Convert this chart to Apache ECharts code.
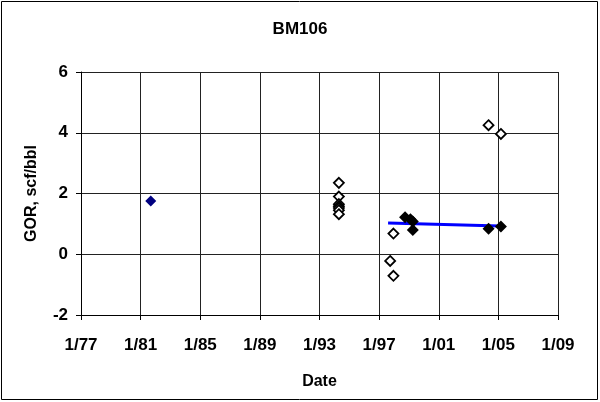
<!DOCTYPE html>
<html><head><meta charset="utf-8">
<script src="https://cdn.jsdelivr.net/npm/echarts@6/dist/echarts.min.js"></script>
<style>html,body{margin:0;padding:0;background:#fff}#c{width:600px;height:402px}</style>
</head><body><div id="c"></div>
<script>
// x values are decimal years
const title = 'BM106';
const xTickYears = [1977, 1981, 1985, 1989, 1993, 1997, 2001, 2005, 2009];
const yTicks = [-2, 0, 2, 4, 6];
const navyX = [1981.68];
const navyY = [1.75];
const openX = [1994.3, 1994.3, 1994.3, 1994.3, 1994.3, 1994.3, 1994.3, 1997.96, 1997.74, 1997.96, 2004.34, 2005.17];
const openY = [2.35, 1.9, 1.65, 1.58, 1.52, 1.45, 1.32, 0.68, -0.22, -0.71, 4.25, 3.96];
const filledX = [1998.74, 1999.1, 1999.26, 1999.26, 2004.34, 2005.17];
const filledY = [1.22, 1.15, 1.08, 0.8, 0.84, 0.91];
const trendX = [1997.6, 2005.1];
const trendY = [1.03, 0.93];

const zip = (a, b) => a.map((v, i) => [v, b[i]]);
const font = 'Liberation Sans, Arial, sans-serif';
const chart = echarts.init(document.getElementById('c'));
chart.setOption({
  animation: false,
  backgroundColor: '#fff',
  title: { text: title, left: 'center', top: 16,
    textStyle: { fontFamily: font, fontSize: 17, fontWeight: 'bold', color: '#000' } },
  grid: { left: 81, right: 42, top: 72, bottom: 87, containLabel: false },
  xAxis: {
    type: 'value', min: xTickYears[0], max: xTickYears[xTickYears.length - 1], interval: 4,
    name: 'Date', nameLocation: 'middle', nameGap: 59,
    nameTextStyle: { fontFamily: font, fontSize: 16, fontWeight: 'bold', color: '#000' },
    axisLine: { show: true, onZero: false, lineStyle: { color: '#000', width: 1 } },
    axisTick: { show: true, length: 5, lineStyle: { color: '#000' } },
    splitLine: { show: true, lineStyle: { color: '#222', width: 1 } },
    axisLabel: { margin: 22, fontFamily: font, fontSize: 17, fontWeight: 'bold', color: '#000',
      formatter: v => '1/' + String(v).slice(2) }
  },
  yAxis: {
    type: 'value', min: yTicks[0], max: yTicks[yTicks.length - 1], interval: 2,
    name: 'GOR, scf/bbl', nameLocation: 'middle', nameGap: 41, nameRotate: 90,
    nameTextStyle: { fontFamily: font, fontSize: 16, fontWeight: 'bold', color: '#000' },
    axisLine: { show: true, onZero: false, lineStyle: { color: '#000', width: 1 } },
    axisTick: { show: true, length: 5, lineStyle: { color: '#000' } },
    splitLine: { show: true, lineStyle: { color: '#222', width: 1 } },
    axisLabel: { margin: 13, fontFamily: font, fontSize: 17, fontWeight: 'bold', color: '#000' }
  },
  graphic: [{ type: 'rect', shape: { x: 1.5, y: 1.5, width: 596, height: 398 },
    style: { fill: 'none', stroke: '#000', lineWidth: 1 }, silent: true }],
  series: [
    { type: 'line', data: zip(trendX, trendY), symbol: 'none', z: 1,
      lineStyle: { color: '#0000ff', width: 3 } },
    { type: 'scatter', data: zip(navyX, navyY), symbol: 'diamond', symbolSize: 11, z: 3,
      itemStyle: { color: '#000080', opacity: 1 } },
    { type: 'scatter', data: zip(openX, openY), symbol: 'diamond', symbolSize: 10, z: 3,
      itemStyle: { color: '#fff', borderColor: '#000', borderWidth: 1.8, opacity: 1 } },
    { type: 'scatter', data: zip(filledX, filledY), symbol: 'diamond', symbolSize: 12, z: 4,
      itemStyle: { color: '#000', opacity: 1 } }
  ]
});
</script></body></html>
